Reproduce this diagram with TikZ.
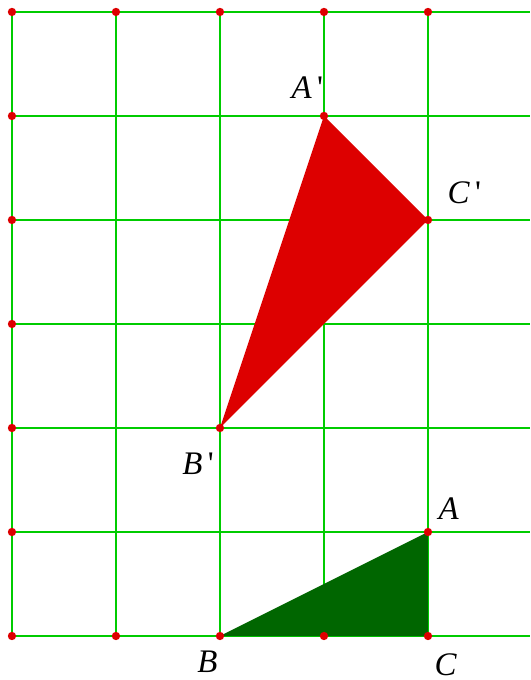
\documentclass[tikz,border=0pt]{standalone}
\usepackage{fontspec}
\setmainfont{Liberation Serif}
\usetikzlibrary{positioning}
\definecolor{gridgreen}{RGB}{0,204,0}
\definecolor{dotred}{RGB}{221,0,0}
\definecolor{darkgreen}{RGB}{0,102,0}
\newcommand{\pr}{\,\textup{\textquotesingle}}

\begin{document}
\begin{tikzpicture}[
  gridline/.style={draw=gridgreen, line width=0.45pt},
  dot/.style={circle, fill=dotred, inner sep=0pt, minimum size=0.8mm},
  lbl/.style={font=\fontsize{9}{10}\selectfont\itshape, inner sep=0pt}
]
\useasboundingbox (-0.115,-0.423) rectangle (4.981,6.115);
% grid
\foreach \y in {0,...,6}
  \draw[gridline] (0,\y) -- (4.981,\y);
\foreach \x in {0,...,4}
  \draw[gridline] (\x,0) -- (\x,6);
% vertices
\coordinate (A) at (4,1);
\coordinate (B) at (2,0);
\coordinate (C) at (4,0);
\coordinate (A1) at (3,5);
\coordinate (B1) at (2,2);
\coordinate (C1) at (4,4);
\fill[darkgreen] (A) -- (B) -- (C) -- cycle;
\fill[dotred] (A1) -- (B1) -- (C1) -- cycle;
% dots
\foreach \x in {0,...,4} {
  \node[dot] (top\x) at (\x,6) {};
  \node[dot] (bot\x) at (\x,0) {};
}
\foreach \y in {1,...,5}
  \node[dot] (left\y) at (0,\y) {};
\foreach \p in {A,A1,B1,C1}
  \node[dot] (dot\p) at (\p) {};
% labels
\node[lbl] (labA) at (4.2,1.22) {A};
\node[lbl] (labB) at (1.88,-0.25) {B};
\node[lbl] (labC) at (4.17,-0.28) {C};
\node[lbl] (labA1) at (2.84,5.27) {A\pr};
\node[lbl] (labB1) at (1.79,1.66) {B\pr};
\node[lbl] (labC1) at (4.35,4.26) {C\pr};
\end{tikzpicture}
\end{document}
